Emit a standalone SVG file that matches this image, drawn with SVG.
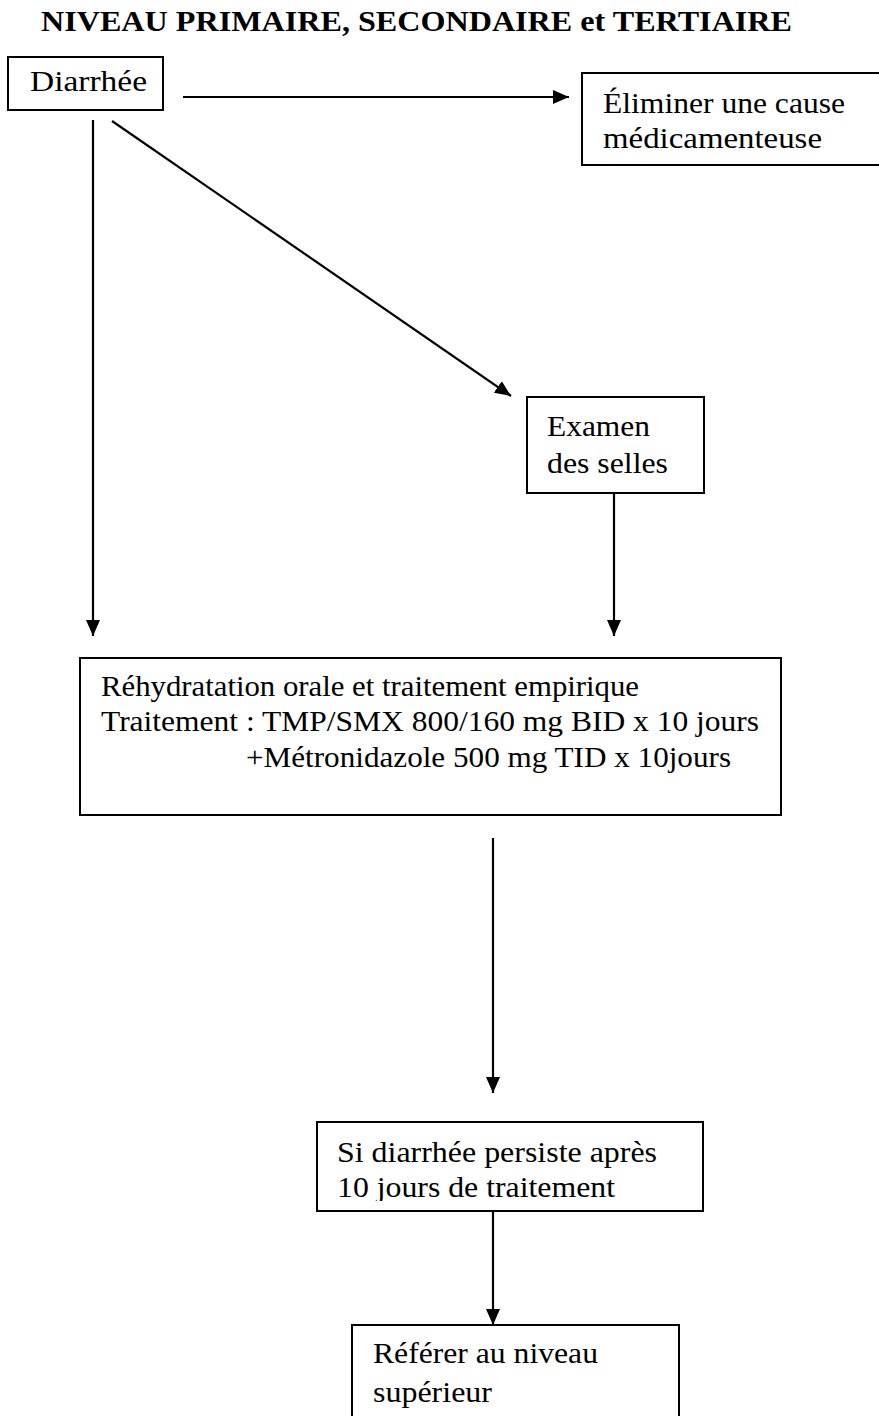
<svg xmlns="http://www.w3.org/2000/svg" width="879" height="1416" viewBox="0 0 879 1416">
<style>
.box{fill:#fff;stroke:#000;stroke-width:2}
.t{font-family:"Liberation Serif","Times New Roman",serif;font-size:30px;fill:#000}
.title{font-family:"Liberation Serif","Times New Roman",serif;font-size:29px;font-weight:bold;fill:#000}
.c{stroke:#000;stroke-width:2.2;fill:none;marker-end:url(#ah)}
</style>
<defs>
<marker id="ah" markerUnits="userSpaceOnUse" markerWidth="16" markerHeight="14" refX="16" refY="7" orient="auto">
<path d="M0,0 L16,7 L0,14 z" fill="#000"/>
</marker>
<clipPath id="clipSi"><rect x="300" y="1100" width="420" height="101"/></clipPath>
</defs>
<rect width="879" height="1416" fill="#fff"/>
<text class="title" x="41" y="31" textLength="751" lengthAdjust="spacingAndGlyphs">NIVEAU PRIMAIRE, SECONDAIRE et TERTIAIRE</text>
<g id="connectors">
<line class="c" x1="183" y1="97" x2="569" y2="97"/>
<line class="c" x1="93" y1="120" x2="93" y2="636"/>
<line class="c" x1="112" y1="121" x2="511" y2="396"/>
<line class="c" x1="614" y1="493" x2="614" y2="636"/>
<line class="c" x1="493" y1="838" x2="493" y2="1093"/>
<line class="c" x1="493" y1="1211" x2="493" y2="1325"/>
</g>
<g id="n-diarrhee">
<rect class="box" x="8" y="57" width="155" height="53"/>
<text class="t" x="30" y="91" textLength="117" lengthAdjust="spacingAndGlyphs">Diarrhée</text>
</g>
<g id="n-eliminer">
<rect class="box" x="582" y="73" width="300" height="92"/>
<text class="t" x="603" y="113" textLength="242" lengthAdjust="spacingAndGlyphs">Éliminer une cause</text>
<text class="t" x="603" y="148" textLength="219" lengthAdjust="spacingAndGlyphs">médicamenteuse</text>
</g>
<g id="n-examen">
<rect class="box" x="527" y="397" width="177" height="96"/>
<text class="t" x="547" y="436" textLength="103" lengthAdjust="spacingAndGlyphs">Examen</text>
<text class="t" x="547" y="473" textLength="121" lengthAdjust="spacingAndGlyphs">des selles</text>
</g>
<g id="n-rehydratation">
<rect class="box" x="80" y="658" width="701" height="157"/>
<text class="t" x="101" y="696" textLength="538" lengthAdjust="spacingAndGlyphs">Réhydratation orale et traitement empirique</text>
<text class="t" x="101" y="731" textLength="658" lengthAdjust="spacingAndGlyphs">Traitement : TMP/SMX 800/160 mg BID x 10 jours</text>
<text class="t" x="246" y="767" textLength="485" lengthAdjust="spacingAndGlyphs">+Métronidazole 500 mg TID x 10jours</text>
</g>
<g id="n-persiste">
<rect class="box" x="317" y="1122" width="386" height="89"/>
<text class="t" x="337" y="1162" textLength="320" lengthAdjust="spacingAndGlyphs">Si diarrhée persiste après</text>
<text class="t" x="337" y="1197" textLength="278" lengthAdjust="spacingAndGlyphs" clip-path="url(#clipSi)">10 jours de traitement</text>
</g>
<g id="n-referer">
<rect class="box" x="352" y="1325" width="327" height="110"/>
<text class="t" x="373" y="1363" textLength="225" lengthAdjust="spacingAndGlyphs">Référer au niveau</text>
<text class="t" x="373" y="1402" textLength="119" lengthAdjust="spacingAndGlyphs">supérieur</text>
</g>
</svg>
